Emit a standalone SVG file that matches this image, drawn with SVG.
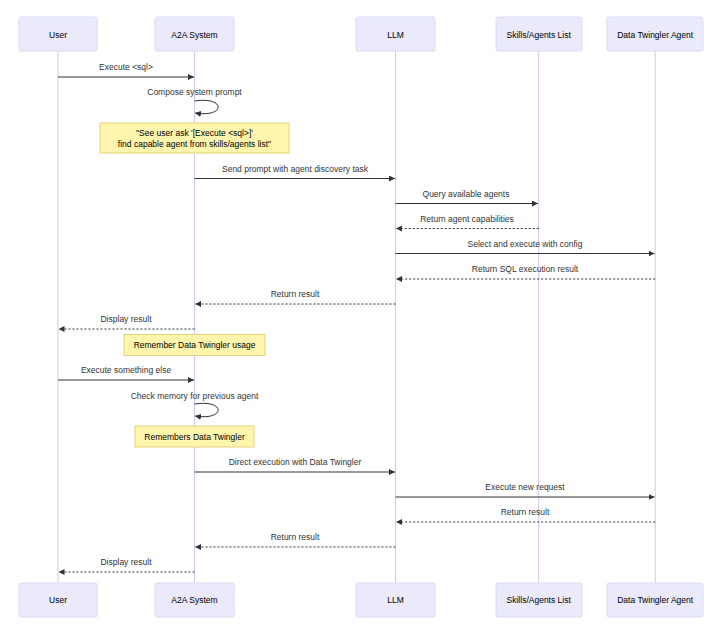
<svg xmlns="http://www.w3.org/2000/svg" width="723" height="633" viewBox="0 0 723 633">
<defs>
<style>
.actor{fill:#eaeafa;stroke:#dcdcf4;stroke-width:1}
.atext{font-family:"Liberation Sans",Arial,sans-serif;font-size:8.5px;fill:#000;text-anchor:middle;dominant-baseline:central}
.life{stroke:#d2c6f2;stroke-width:1}
.msg{stroke:#333;stroke-width:1;fill:none}
.dot{stroke:#333;stroke-width:1;fill:none;stroke-dasharray:2,2}
.mtext{font-family:"Liberation Sans",Arial,sans-serif;font-size:8.5px;fill:#333;text-anchor:middle}
.note{fill:#fff5ad;stroke:#e2d47c;stroke-width:1}
.ntext{font-family:"Liberation Sans",Arial,sans-serif;font-size:8.5px;fill:#000;text-anchor:middle;dominant-baseline:central}
</style>
<marker id="ah" viewBox="0 0 10 10" refX="10" refY="5" markerWidth="6" markerHeight="6" markerUnits="userSpaceOnUse" orient="auto">
<path d="M0,0 L10,5 L0,10 z" fill="#333"/>
</marker>
</defs>
<rect width="723" height="633" fill="#fff"/>
<g id="lifelines">
<line class="life" x1="58" y1="51" x2="58" y2="583"/>
<line class="life" x1="194.5" y1="51" x2="194.5" y2="583"/>
<line class="life" x1="395.5" y1="51" x2="395.5" y2="583"/>
<line class="life" x1="538.7" y1="51" x2="538.7" y2="583"/>
<line class="life" x1="655.2" y1="51" x2="655.2" y2="583"/>
</g>
<g id="actor-user"><rect class="actor" x="19" y="17" width="78" height="34" rx="2"/><text class="atext" x="58" y="34.5">User</text></g>
<g id="actor-a2a"><rect class="actor" x="155" y="17" width="79" height="34" rx="2"/><text class="atext" x="194.5" y="34.5">A2A System</text></g>
<g id="actor-llm"><rect class="actor" x="356" y="17" width="79" height="34" rx="2"/><text class="atext" x="395.5" y="34.5">LLM</text></g>
<g id="actor-skills"><rect class="actor" x="496" y="17" width="86" height="34" rx="2"/><text class="atext" x="538.7" y="34.5">Skills/Agents List</text></g>
<g id="actor-dta"><rect class="actor" x="607" y="17" width="96" height="34" rx="2"/><text class="atext" x="655.2" y="34.5">Data Twingler Agent</text></g>
<g id="actor-user-bottom"><rect class="actor" x="19" y="583" width="78" height="34" rx="2"/><text class="atext" x="58" y="600">User</text></g>
<g id="actor-a2a-bottom"><rect class="actor" x="155" y="583" width="79" height="34" rx="2"/><text class="atext" x="194.5" y="600">A2A System</text></g>
<g id="actor-llm-bottom"><rect class="actor" x="356" y="583" width="79" height="34" rx="2"/><text class="atext" x="395.5" y="600">LLM</text></g>
<g id="actor-skills-bottom"><rect class="actor" x="496" y="583" width="86" height="34" rx="2"/><text class="atext" x="538.7" y="600">Skills/Agents List</text></g>
<g id="actor-dta-bottom"><rect class="actor" x="607" y="583" width="96" height="34" rx="2"/><text class="atext" x="655.2" y="600">Data Twingler Agent</text></g>
<g id="note1"><rect class="note" x="100" y="123" width="189" height="30"/><text class="ntext" x="194.5" y="133">"See user ask '[Execute &lt;sql&gt;]'</text><text class="ntext" x="194.5" y="143.5">find capable agent from skills/agents list"</text></g>
<g id="note2"><rect class="note" x="124" y="334.5" width="141" height="21"/><text class="ntext" x="194.5" y="345">Remember Data Twingler usage</text></g>
<g id="note3"><rect class="note" x="135" y="426" width="119" height="21"/><text class="ntext" x="194.5" y="436.5">Remembers Data Twingler</text></g>
<g id="connectors">
<line class="msg" x1="58" y1="77" x2="194" y2="77" marker-end="url(#ah)"/>
<path class="msg" d="M194.5,101 C226,96 226,118 195,113" marker-end="url(#ah)"/>
<line class="msg" x1="194.5" y1="178.5" x2="395" y2="178.5" marker-end="url(#ah)"/>
<line class="msg" x1="395.5" y1="203.5" x2="538" y2="203.5" marker-end="url(#ah)"/>
<line class="dot" x1="538.7" y1="228.5" x2="396" y2="228.5" marker-end="url(#ah)"/>
<line class="msg" x1="395.5" y1="253.5" x2="654.5" y2="253.5" marker-end="url(#ah)"/>
<line class="dot" x1="655.2" y1="279" x2="396" y2="279" marker-end="url(#ah)"/>
<line class="dot" x1="395.5" y1="304" x2="195" y2="304" marker-end="url(#ah)"/>
<line class="dot" x1="194.5" y1="329" x2="58.5" y2="329" marker-end="url(#ah)"/>
<line class="msg" x1="58" y1="380" x2="194" y2="380" marker-end="url(#ah)"/>
<path class="msg" d="M194.5,404 C226,399 226,421 195,416" marker-end="url(#ah)"/>
<line class="msg" x1="194.5" y1="472" x2="395" y2="472" marker-end="url(#ah)"/>
<line class="msg" x1="395.5" y1="497" x2="654.5" y2="497" marker-end="url(#ah)"/>
<line class="dot" x1="655.2" y1="522" x2="396" y2="522" marker-end="url(#ah)"/>
<line class="dot" x1="395.5" y1="547" x2="195" y2="547" marker-end="url(#ah)"/>
<line class="dot" x1="194.5" y1="572" x2="58.5" y2="572" marker-end="url(#ah)"/>
</g>
<g id="labels">
<text class="mtext" x="126" y="70">Execute &lt;sql&gt;</text>
<text class="mtext" x="194.5" y="95">Compose system prompt</text>
<text class="mtext" x="295" y="171.5">Send prompt with agent discovery task</text>
<text class="mtext" x="466" y="196.5">Query available agents</text>
<text class="mtext" x="467" y="221.5">Return agent capabilities</text>
<text class="mtext" x="525" y="246.5">Select and execute with config</text>
<text class="mtext" x="525" y="272">Return SQL execution result</text>
<text class="mtext" x="295" y="297">Return result</text>
<text class="mtext" x="126" y="322">Display result</text>
<text class="mtext" x="126" y="373">Execute something else</text>
<text class="mtext" x="194.5" y="398.5">Check memory for previous agent</text>
<text class="mtext" x="295" y="465">Direct execution with Data Twingler</text>
<text class="mtext" x="525" y="490">Execute new request</text>
<text class="mtext" x="525" y="515">Return result</text>
<text class="mtext" x="295" y="540">Return result</text>
<text class="mtext" x="126" y="565">Display result</text>
</g>
</svg>
